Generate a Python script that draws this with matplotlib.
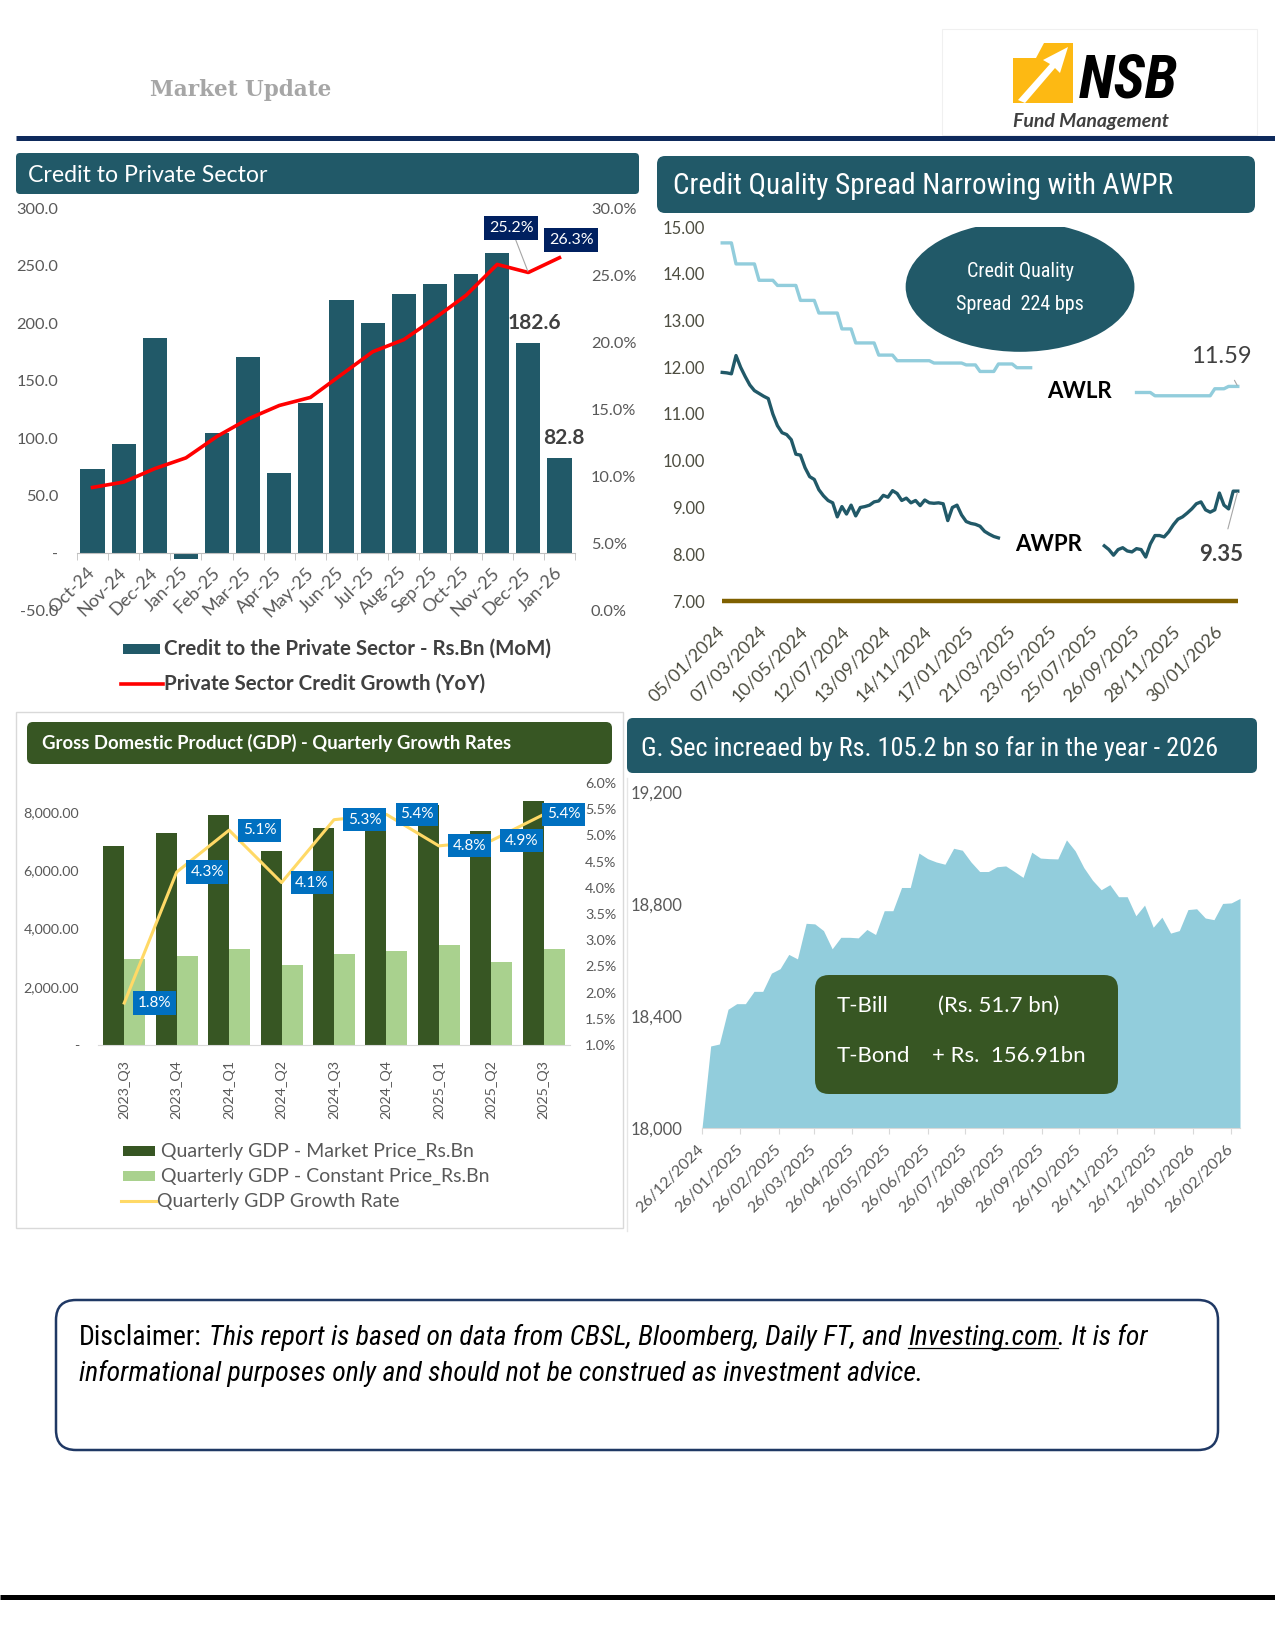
import matplotlib
matplotlib.use("Agg")
import matplotlib.pyplot as plt
import numpy as np
import pandas as pd
from matplotlib import font_manager
from matplotlib.patches import Ellipse, FancyBboxPatch, Polygon, Rectangle
from matplotlib.ticker import FuncFormatter

# ---------------- data ----------------
credit_months = ["Oct-24", "Nov-24", "Dec-24", "Jan-25", "Feb-25", "Mar-25", "Apr-25", "May-25",
                 "Jun-25", "Jul-25", "Aug-25", "Sep-25", "Oct-25", "Nov-25", "Dec-25", "Jan-26"]
credit_mom = [73, 95, 187, -5, 105, 171, 70, 131, 220, 200, 225, 234, 243, 261, 182.6, 82.8]
credit_yoy = [9.2, 9.6, 10.6, 11.4, 13.0, 14.3, 15.3, 15.9, 17.6, 19.3, 20.2, 21.8, 23.5, 25.8, 25.2, 26.3]

nan = np.nan
# weekly AWLR / AWPR, 05/01/2024 .. end Feb 2026 (gaps where the series labels sit)
awlr = [14.66, 14.66, 14.66, 14.21, 14.21, 14.21, 14.21, 14.21, 13.86, 13.86,
        13.86, 13.86, 13.75, 13.75, 13.75, 13.75, 13.75, 13.43, 13.43, 13.43,
        13.43, 13.16, 13.16, 13.16, 13.16, 13.16, 12.82, 12.82, 12.82, 12.52,
        12.52, 12.52, 12.52, 12.52, 12.26, 12.26, 12.26, 12.26, 12.14, 12.14,
        12.14, 12.14, 12.14, 12.14, 12.14, 12.14, 12.09, 12.09, 12.09, 12.09,
        12.09, 12.09, 12.09, 12.05, 12.05, 12.05, 11.91, 11.91, 11.91, 11.91,
        12.07, 12.07, 12.07, 12.07, 11.99, 11.99, 11.99, 11.99, nan, nan,
        nan, nan, nan, nan, nan, nan, nan, nan, nan, nan,
        nan, nan, nan, nan, nan, nan, nan, nan, nan, nan,
        11.46, 11.46, 11.46, 11.46, 11.39, 11.39, 11.39, 11.39, 11.39, 11.39,
        11.39, 11.39, 11.39, 11.39, 11.39, 11.39, 11.39, 11.54, 11.54, 11.54,
        11.59, 11.59, 11.59]
awpr = [11.89, 11.88, 11.86, 12.25, 12.00, 11.80, 11.62, 11.50, 11.44, 11.38,
        11.33, 11.00, 10.75, 10.60, 10.56, 10.45, 10.14, 10.12, 9.85, 9.66,
        9.60, 9.38, 9.25, 9.15, 9.10, 8.80, 9.02, 8.86, 9.05, 8.82,
        9.00, 9.02, 9.05, 9.12, 9.14, 9.26, 9.22, 9.36, 9.30, 9.15,
        9.20, 9.10, 9.15, 9.04, 9.16, 9.10, 9.09, 9.10, 9.08, 8.72,
        9.00, 9.05, 8.84, 8.70, 8.66, 8.64, 8.60, 8.49, 8.43, 8.38,
        8.35, nan, nan, nan, nan, nan, nan, nan, nan, nan,
        nan, nan, nan, nan, nan, nan, nan, nan, nan, nan,
        nan, nan, nan, 8.18, 8.10, 7.98, 8.10, 8.14, 8.07, 8.05,
        8.12, 8.10, 7.94, 8.22, 8.40, 8.40, 8.37, 8.48, 8.63, 8.75,
        8.80, 8.88, 8.97, 9.08, 9.12, 8.95, 8.90, 8.95, 9.31, 9.05,
        8.97, 9.35, 9.35]
policy_rate = 7.00
rate_tick_weeks = [0, 9, 18, 27, 36, 45, 54, 63, 72, 81, 90, 99, 108]
rate_tick_labels = ["05/01/2024", "07/03/2024", "10/05/2024", "12/07/2024", "13/09/2024",
                    "14/11/2024", "17/01/2025", "21/03/2025", "23/05/2025", "25/07/2025",
                    "26/09/2025", "28/11/2025", "30/01/2026"]

quarters = ["2023_Q3", "2023_Q4", "2024_Q1", "2024_Q2", "2024_Q3",
            "2024_Q4", "2025_Q1", "2025_Q2", "2025_Q3"]
gdp_market = [6834, 7291, 7909, 6651, 7463, 8050, 8250, 7349, 8377]
gdp_constant = [2971, 3063, 3291, 2731, 3120, 3223, 3451, 2857, 3303]
gdp_growth = [1.8, 4.3, 5.1, 4.1, 5.3, 5.4, 4.8, 4.9, 5.4]

gsec_start = "2024-12-26"
gsec_values = [18000, 18293, 18300, 18424, 18444, 18444, 18488, 18488, 18553, 18569,
               18620, 18604, 18731, 18729, 18705, 18640, 18681, 18681, 18679, 18709,
               18691, 18776, 18776, 18859, 18859, 18982, 18962, 18950, 18942, 18999,
               18992, 18950, 18916, 18916, 18933, 18936, 18916, 18895, 18985, 18964,
               18962, 18961, 19029, 18990, 18930, 18885, 18851, 18869, 18826, 18826,
               18758, 18796, 18717, 18753, 18696, 18705, 18780, 18783, 18750, 18744,
               18802, 18804, 18820]

# ---------------- style ----------------
W, H = 1275, 1650
installed = {f.name for f in font_manager.fontManager.ttflist}
BODY = next(f for f in ["Lato", "Open Sans", "DejaVu Sans"] if f in installed)
NARROW = next((f for f in ["Liberation Sans Narrow", "Roboto Condensed"] if f in installed), BODY)
NS = 1.0 if NARROW != BODY else 0.82
plt.rcParams["font.family"] = [BODY, "DejaVu Sans"]

TEAL = "#215968"
LBLUE = "#92CDDC"
DGREEN = "#375623"
LGREEN = "#A9D18E"
YELLOW = "#FFD966"
BLUE = "#0070C0"
NAVY = "#002060"
GRAY = "#595959"
DGRAY = "#404040"


def rect(x0, y0, x1, y1):
    return [x0 / W, 1 - y1 / H, (x1 - x0) / W, (y1 - y0) / H]


def rbox(ax, x0, y0, x1, y1, fc, r=6, **kw):
    ax.add_patch(FancyBboxPatch((x0, y0), x1 - x0, y1 - y0,
                                boxstyle=f"round,pad=0,rounding_size={r}", fc=fc, **kw))


fig = plt.figure(figsize=(W / 100, H / 100), dpi=100)
bg = fig.add_axes([0, 0, 1, 1])
bg.set_xlim(0, W)
bg.set_ylim(H, 0)
bg.axis("off")

# ---------------- header ----------------
bg.text(150, 90, "Market Update", family=["DejaVu Serif"], fontweight="bold",
        fontsize=15.5, color="#a6a6a6", va="center")
bg.add_patch(Rectangle((942, 29), 315, 106, fc="none", ec="#f0f0f0", lw=0.8))
bg.add_patch(Polygon([(1013, 58), (1036, 58), (1044, 43), (1073, 43), (1073, 103), (1013, 103)],
                     closed=True, fc="#FDB913", ec="none"))
bg.add_patch(Polygon([(1018, 100), (1050, 64), (1043, 60), (1068, 47), (1060, 73), (1055, 68),
                      (1025, 103)], closed=True, fc="white", ec="none"))
bg.text(1079, 98, "NSB", family=[NARROW, "DejaVu Sans"], fontweight="bold", style="italic",
        fontsize=43 * NS, color="black", va="baseline")
bg.text(1013, 122, "Fund Management", style="italic", fontweight="bold", fontsize=14,
        color=DGRAY, va="center")
bg.plot([16, W], [137.5, 137.5], color="#0e2a5c", lw=3.6, solid_capstyle="butt")

# ---------------- credit to private sector ----------------
rbox(bg, 16, 153, 639, 194, TEAL, r=4, ec="none")
bg.text(28, 175, "Credit to Private Sector", color="white", fontsize=16.7, va="center")

ax1 = fig.add_axes(rect(77, 208, 575, 611))
ax1.patch.set_visible(False)
xc = np.arange(len(credit_months))
ax1.bar(xc, credit_mom, width=0.78, color=TEAL, zorder=2)
ax1.set_xlim(-0.5, len(xc) - 0.5)
ax1.set_ylim(-50, 300)
for s in ["top", "right", "left"]:
    ax1.spines[s].set_visible(False)
ax1.spines["bottom"].set_position(("data", 0))
ax1.spines["bottom"].set_color("#bfbfbf")
ax1.set_yticks(np.arange(-50, 301, 50))
ax1.yaxis.set_major_formatter(FuncFormatter(lambda v, p: "-" if v == 0 else f"{v:.1f}"))
ax1.tick_params(axis="y", length=0, pad=13.5, labelsize=11.8, labelcolor=GRAY)
ax1.set_xticks(xc)
ax1.set_xticklabels(credit_months, rotation=45, ha="right", va="center", rotation_mode="anchor")
ax1.set_xticks(np.arange(-0.5, len(xc), 1), minor=True)
ax1.tick_params(axis="x", which="major", length=0, pad=12, labelsize=13, labelcolor=GRAY)
ax1.tick_params(axis="x", which="minor", length=5, color="#bfbfbf")

ax1r = ax1.twinx()
ax1r.plot(xc, credit_yoy, color="#FF0000", lw=2.6, zorder=3)
ax1r.set_ylim(0, 30)
for s in ax1r.spines.values():
    s.set_visible(False)
ax1r.set_yticks(np.arange(0, 31, 5))
ax1r.yaxis.set_major_formatter(FuncFormatter(lambda v, p: f"{v:.1f}%"))
ax1r.tick_params(axis="y", length=0, pad=11.5, labelsize=11.8, labelcolor=GRAY)
ax1r.annotate(f"{credit_yoy[14]:.1f}%", xy=(14, credit_yoy[14]), xytext=(13.45, 28.5),
              ha="center", va="center", color="white", fontsize=11.5,
              bbox=dict(boxstyle="square,pad=0.3", fc=NAVY, ec="none"),
              arrowprops=dict(arrowstyle="-", color="#a6a6a6", lw=0.8, shrinkA=0, shrinkB=1))
ax1r.text(15.38, 27.6, f"{credit_yoy[15]:.1f}%", ha="center", va="center", color="white",
          fontsize=11.5, bbox=dict(boxstyle="square,pad=0.3", fc=NAVY, ec="none"))
ax1.text(14.19, 200, f"{credit_mom[14]:.1f}", ha="center", va="center", fontsize=15,
         fontweight="bold", color=DGRAY)
ax1.text(15.13, 100, f"{credit_mom[15]:.1f}", ha="center", va="center", fontsize=15,
         fontweight="bold", color=DGRAY)

bg.add_patch(Rectangle((123, 644), 37, 10, fc=TEAL, ec="none"))
bg.text(164, 649, "Credit to the Private Sector - Rs.Bn (MoM)", fontsize=14.8, fontweight="bold",
        color=DGRAY, va="center")
bg.plot([121, 163], [684, 684], color="#FF0000", lw=2.6)
bg.text(164, 684, "Private Sector Credit Growth (YoY)", fontsize=14.8, fontweight="bold",
        color=DGRAY, va="center")

# ---------------- credit quality spread ----------------
rbox(bg, 657, 156, 1255, 213, TEAL, r=8, ec="none")
bg.text(673, 186, "Credit Quality Spread Narrowing with AWPR", family=[NARROW, "DejaVu Sans"],
        color="white", fontsize=21 * NS, va="center")

ax2 = fig.add_axes(rect(713, 227, 1247, 601))
ax2.patch.set_visible(False)
weeks = np.arange(len(awlr))
ax2.plot(weeks, awlr, color=LBLUE, lw=2.4)
ax2.plot(weeks, awpr, color=TEAL, lw=2.4)
ax2.plot([weeks[0], weeks[-1]], [policy_rate, policy_rate], color="#7F6000", lw=3.2,
         clip_on=False, solid_capstyle="butt")
ax2.set_xlim(-2, 114)
ax2.set_ylim(7, 15)
for s in ax2.spines.values():
    s.set_visible(False)
ax2.set_yticks(np.arange(7, 15.1, 1))
ax2.yaxis.set_major_formatter(FuncFormatter(lambda v, p: f"{v:.2f}"))
ax2.tick_params(axis="y", length=0, pad=6, labelsize=12, labelcolor="#4d4d40")
ax2.set_xticks(rate_tick_weeks)
ax2.set_xticklabels(rate_tick_labels, rotation=45, ha="right", va="center", rotation_mode="anchor")
ax2.tick_params(axis="x", length=0, pad=20, labelsize=13, labelcolor="#4d4d40")
ax2.add_patch(Ellipse((64.7, 13.72), 49.7, 2.78, fc=TEAL, ec="none", zorder=4))
ax2.text(64.7, 14.05, "Credit Quality", family=[NARROW, "DejaVu Sans"], color="white",
         fontsize=14.5 * NS, ha="center", va="center", zorder=5)
ax2.text(64.7, 13.35, "Spread  224 bps", family=[NARROW, "DejaVu Sans"], color="white",
         fontsize=14.5 * NS, ha="center", va="center", zorder=5)
ax2.text(77.5, 11.49, "AWLR", fontsize=16, fontweight="bold", color="black", ha="center", va="center")
ax2.text(71.0, 8.2, "AWPR", fontsize=16, fontweight="bold", color="black", ha="center", va="center")
ax2.annotate(f"{awlr[-1]:.2f}", xy=(weeks[-1], awlr[-1]), xytext=(108.4, 12.24), fontsize=17,
             color=DGRAY, ha="center", va="center",
             arrowprops=dict(arrowstyle="-", color="#a6a6a6", lw=0.8, shrinkA=9, shrinkB=1))
ax2.annotate(f"{awpr[-1]:.2f}", xy=(weeks[-1], awpr[-1]), xytext=(108.4, 8.0), fontsize=16,
             fontweight="bold", color=DGRAY, ha="center", va="center",
             arrowprops=dict(arrowstyle="-", color="#a6a6a6", lw=0.8, shrinkA=9, shrinkB=1))

# ---------------- GDP ----------------
bg.add_patch(Rectangle((16, 712), 607, 516, fc="none", ec="#d9d9d9", lw=1))
rbox(bg, 27, 722, 612, 764, DGREEN, r=6, ec="none")
bg.text(42, 743, "Gross Domestic Product (GDP) - Quarterly Growth Rates", color="white",
        fontsize=13.3, fontweight="bold", va="center")

ax3 = fig.add_axes(rect(98, 783, 570, 1045))
ax3.patch.set_visible(False)
xq = np.arange(len(quarters))
ax3.bar(xq - 0.2, gdp_market, 0.4, color=DGREEN)
ax3.bar(xq + 0.2, gdp_constant, 0.4, color=LGREEN)
ax3.set_xlim(-0.5, len(xq) - 0.5)
ax3.set_ylim(0, 9000)
for s in ["top", "right", "left"]:
    ax3.spines[s].set_visible(False)
ax3.spines["bottom"].set_color("#d9d9d9")
ax3.set_yticks(np.arange(0, 8001, 2000))
ax3.yaxis.set_major_formatter(FuncFormatter(lambda v, p: "-" if v == 0 else f"{v:,.2f}"))
ax3.tick_params(axis="y", length=0, pad=13.5, labelsize=10.3, labelcolor=GRAY)
ax3.set_xticks(xq)
ax3.set_xticklabels(quarters, rotation=90)
ax3.tick_params(axis="x", length=0, pad=11, labelsize=10.3, labelcolor=GRAY)

ax3r = ax3.twinx()
ax3r.plot(xq, gdp_growth, color=YELLOW, lw=2.2)
ax3r.set_ylim(1, 6)
for s in ax3r.spines.values():
    s.set_visible(False)
ax3r.set_yticks(np.arange(1, 6.01, 0.5))
ax3r.yaxis.set_major_formatter(FuncFormatter(lambda v, p: f"{v:.1f}%"))
ax3r.tick_params(axis="y", length=0, pad=11, labelsize=10.3, labelcolor=GRAY)
for i, v in enumerate(gdp_growth):
    dx = 0.58 if i < len(gdp_growth) - 1 else 0.38
    ax3r.text(i + dx, v, f"{v:.1f}%", ha="center", va="center", color="white", fontsize=11,
              bbox=dict(boxstyle="square,pad=0.3", fc=BLUE, ec="none"))

bg.add_patch(Rectangle((123, 1146), 32, 10, fc=DGREEN, ec="none"))
bg.text(161, 1151, "Quarterly GDP - Market Price_Rs.Bn", fontsize=14, color=GRAY, va="center")
bg.add_patch(Rectangle((123, 1171), 32, 10, fc=LGREEN, ec="none"))
bg.text(161, 1176, "Quarterly GDP - Constant Price_Rs.Bn", fontsize=14, color=GRAY, va="center")
bg.plot([121, 156], [1201, 1201], color=YELLOW, lw=2.2)
bg.text(157, 1201, "Quarterly GDP Growth Rate", fontsize=14, color=GRAY, va="center")

# ---------------- G-Sec ----------------
rbox(bg, 627, 718, 1257, 773, TEAL, r=6, ec="none")
bg.text(641, 749, "G. Sec increaed by Rs. 105.2 bn so far in the year - 2026",
        family=[NARROW, "DejaVu Sans"], color="white", fontsize=18.9 * NS, va="center")
bg.plot([627, 627], [778, 1231], color="#e6e6e6", lw=1)

ax4 = fig.add_axes(rect(702, 792, 1240, 1128))
ax4.patch.set_visible(False)
gsec_dates = pd.date_range(gsec_start, periods=len(gsec_values), freq="7D")
ax4.fill_between(gsec_dates, gsec_values, 18000, color=LBLUE, lw=0)
ax4.set_xlim(gsec_dates[0], gsec_dates[-1])
ax4.set_ylim(18000, 19200)
for s in ["top", "right", "left"]:
    ax4.spines[s].set_visible(False)
ax4.spines["bottom"].set_color("#d9d9d9")
ax4.set_yticks([18000, 18400, 18800, 19200])
ax4.yaxis.set_major_formatter(FuncFormatter(lambda v, p: f"{v:,.0f}"))
ax4.tick_params(axis="y", length=0, pad=14, labelsize=12, labelcolor=GRAY)
month_ticks = pd.date_range(gsec_start, "2026-02-26", freq=pd.DateOffset(months=1))
ax4.set_xticks(month_ticks)
ax4.set_xticklabels([d.strftime("%d/%m/%Y") for d in month_ticks], rotation=45, ha="right",
                    va="center", rotation_mode="anchor")
ax4.tick_params(axis="x", length=4, color="#d9d9d9", pad=10, labelsize=11.5, labelcolor=GRAY)

fg = fig.add_axes([0, 0, 1, 1])
fg.set_xlim(0, W)
fg.set_ylim(H, 0)
fg.axis("off")
rbox(fg, 815, 975, 1118, 1094, DGREEN, r=14, ec="none")
fg.text(837, 1006, "T-Bill", color="white", fontsize=16, va="center")
fg.text(938, 1006, "(Rs. 51.7 bn)", color="white", fontsize=16, va="center")
fg.text(837, 1056, "T-Bond", color="white", fontsize=16, va="center")
fg.text(932, 1056, "+ Rs.  156.91bn", color="white", fontsize=16, va="center")

# ---------------- disclaimer ----------------
rbox(bg, 56, 1300, 1218, 1450, "white", r=20, ec="#1f3864", lw=1.8)
renderer = fig.canvas.get_renderer()
dsize = 20 * NS
dfont = dict(family=[NARROW, "DejaVu Sans"], fontsize=dsize, color="black", va="baseline")
gap = dsize * 100 / 72 * 0.25
y1, y2 = 1345, 1381
t = bg.text(79, y1, "Disclaimer:", **dfont)
x = t.get_window_extent(renderer).x1 + gap
t = bg.text(x, y1, "This report is based on data from CBSL, Bloomberg, Daily FT, and",
            style="italic", **dfont)
x = t.get_window_extent(renderer).x1 + gap
t = bg.text(x, y1, "Investing.com", style="italic", **dfont)
bb = t.get_window_extent(renderer)
bg.plot([bb.x0, bb.x1], [y1 + 3, y1 + 3], color="black", lw=0.9)
bg.text(bb.x1, y1, ". It is for", style="italic", **dfont)
bg.text(79, y2, "informational purposes only and should not be construed as investment advice.",
        style="italic", **dfont)

bg.plot([0, W], [1597, 1597], color="black", lw=3.6, solid_capstyle="butt")

fig.savefig("out.png", dpi=100)
